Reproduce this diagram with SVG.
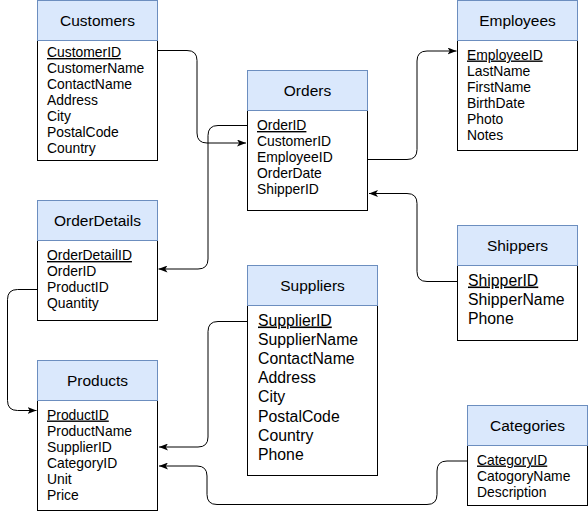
<svg xmlns="http://www.w3.org/2000/svg" width="588" height="514" viewBox="0 0 588 514">
<style>
.body{fill:#ffffff;stroke:#000000;stroke-width:1}
.head{fill:#dae8fc;stroke:#6c8ebf;stroke-width:1}
.title{font-family:"Liberation Sans",Arial,sans-serif;font-size:15.5px;fill:#000;text-anchor:middle}
.f{font-family:"Liberation Sans",Arial,sans-serif;font-size:13.9px;fill:#000}
.F{font-family:"Liberation Sans",Arial,sans-serif;font-size:15.8px;fill:#000}
.u{text-decoration:underline}
.edge{fill:none;stroke:#000;stroke-width:1;marker-end:url(#arr)}
</style>
<defs>
<marker id="arr" markerUnits="userSpaceOnUse" viewBox="0 0 9 7" refX="9" refY="3.5" markerWidth="9" markerHeight="7" orient="auto">
<path d="M0,0 L9,3.5 L0,7 L2.25,3.5 Z" fill="#000"/>
</marker>
</defs>

<g id="connectors">
<path class="edge" d="M157.5,50.5 H187 Q197,50.5 197,60.5 V133 Q197,143 207,143 H246"/>
<path class="edge" d="M247.5,125.5 H218 Q208,125.5 208,135.5 V259 Q208,269 198,269 H158.5"/>
<path class="edge" d="M367.5,159.5 H407 Q417,159.5 417,149.5 V61 Q417,51 427,51 H456.5"/>
<path class="edge" d="M457.5,281.5 H427 Q417,281.5 417,271.5 V203.5 Q417,193.5 407,193.5 H369"/>
<path class="edge" d="M37.5,289.5 H17.5 Q7.5,289.5 7.5,299.5 V400.5 Q7.5,410.5 17.5,410.5 H36.5"/>
<path class="edge" d="M247.5,321.5 H218 Q208,321.5 208,331.5 V437 Q208,447 198,447 H159"/>
<path class="edge" d="M467.5,461 H447 Q437,461 437,471 V494.5 Q437,504.5 427,504.5 H217 Q207,504.5 207,494.5 V476 Q207,466 197,466 H159"/>
</g>

<g id="customers">
<rect class="body" x="37.5" y="40.5" width="120" height="120"/>
<rect class="head" x="37.5" y="0.5" width="120" height="40"/>
<text class="title" x="97.5" y="26">Customers</text>
<text class="f u" x="47" y="57">CustomerID</text>
<text class="f" x="47" y="73">CustomerName</text>
<text class="f" x="47" y="89">ContactName</text>
<text class="f" x="47" y="105">Address</text>
<text class="f" x="47" y="121">City</text>
<text class="f" x="47" y="137">PostalCode</text>
<text class="f" x="47" y="153">Country</text>
</g>

<g id="orders">
<rect class="body" x="247.5" y="110.5" width="120" height="100"/>
<rect class="head" x="247.5" y="70.5" width="120" height="40"/>
<text class="title" x="307.5" y="96">Orders</text>
<text class="f u" x="257" y="130">OrderID</text>
<text class="f" x="257" y="146">CustomerID</text>
<text class="f" x="257" y="162">EmployeeID</text>
<text class="f" x="257" y="178">OrderDate</text>
<text class="f" x="257" y="194">ShipperID</text>
</g>

<g id="employees">
<rect class="body" x="457.5" y="40.5" width="120" height="110"/>
<rect class="head" x="457.5" y="0.5" width="120" height="40"/>
<text class="title" x="517.5" y="26">Employees</text>
<text class="f u" x="467" y="59.5">EmployeeID</text>
<text class="f" x="467" y="75.5">LastName</text>
<text class="f" x="467" y="91.5">FirstName</text>
<text class="f" x="467" y="107.5">BirthDate</text>
<text class="f" x="467" y="123.5">Photo</text>
<text class="f" x="467" y="139.5">Notes</text>
</g>

<g id="orderdetails">
<rect class="body" x="37.5" y="240.5" width="120" height="80"/>
<rect class="head" x="37.5" y="200.5" width="120" height="40"/>
<text class="title" x="97.5" y="226">OrderDetails</text>
<text class="f u" x="47" y="260">OrderDetailID</text>
<text class="f" x="47" y="276">OrderID</text>
<text class="f" x="47" y="292">ProductID</text>
<text class="f" x="47" y="308">Quantity</text>
</g>

<g id="shippers">
<rect class="body" x="457.5" y="265.5" width="120" height="75"/>
<rect class="head" x="457.5" y="225.5" width="120" height="40"/>
<text class="title" x="517.5" y="250.5">Shippers</text>
<text class="F u" x="468" y="285.5">ShipperID</text>
<text class="F" x="468" y="304.7">ShipperName</text>
<text class="F" x="468" y="323.9">Phone</text>
</g>

<g id="suppliers">
<rect class="body" x="247.5" y="305.5" width="130" height="170"/>
<rect class="head" x="247.5" y="265.5" width="130" height="40"/>
<text class="title" x="312.5" y="291">Suppliers</text>
<text class="F u" x="258" y="325.5">SupplierID</text>
<text class="F" x="258" y="344.7">SupplierName</text>
<text class="F" x="258" y="363.9">ContactName</text>
<text class="F" x="258" y="383.1">Address</text>
<text class="F" x="258" y="402.3">City</text>
<text class="F" x="258" y="421.5">PostalCode</text>
<text class="F" x="258" y="440.7">Country</text>
<text class="F" x="258" y="459.9">Phone</text>
</g>

<g id="products">
<rect class="body" x="37.5" y="400.5" width="120" height="110"/>
<rect class="head" x="37.5" y="360.5" width="120" height="40"/>
<text class="title" x="97.5" y="386">Products</text>
<text class="f u" x="47" y="419.5">ProductID</text>
<text class="f" x="47" y="435.5">ProductName</text>
<text class="f" x="47" y="451.5">SupplierID</text>
<text class="f" x="47" y="467.5">CategoryID</text>
<text class="f" x="47" y="483.5">Unit</text>
<text class="f" x="47" y="499.5">Price</text>
</g>

<g id="categories">
<rect class="body" x="467.5" y="445.5" width="120" height="60"/>
<rect class="head" x="467.5" y="405.5" width="120" height="40"/>
<text class="title" x="527.5" y="431">Categories</text>
<text class="f u" x="477" y="464.5">CategoryID</text>
<text class="f" x="477" y="480.5">CatogoryName</text>
<text class="f" x="477" y="496.5">Description</text>
</g>
</svg>
